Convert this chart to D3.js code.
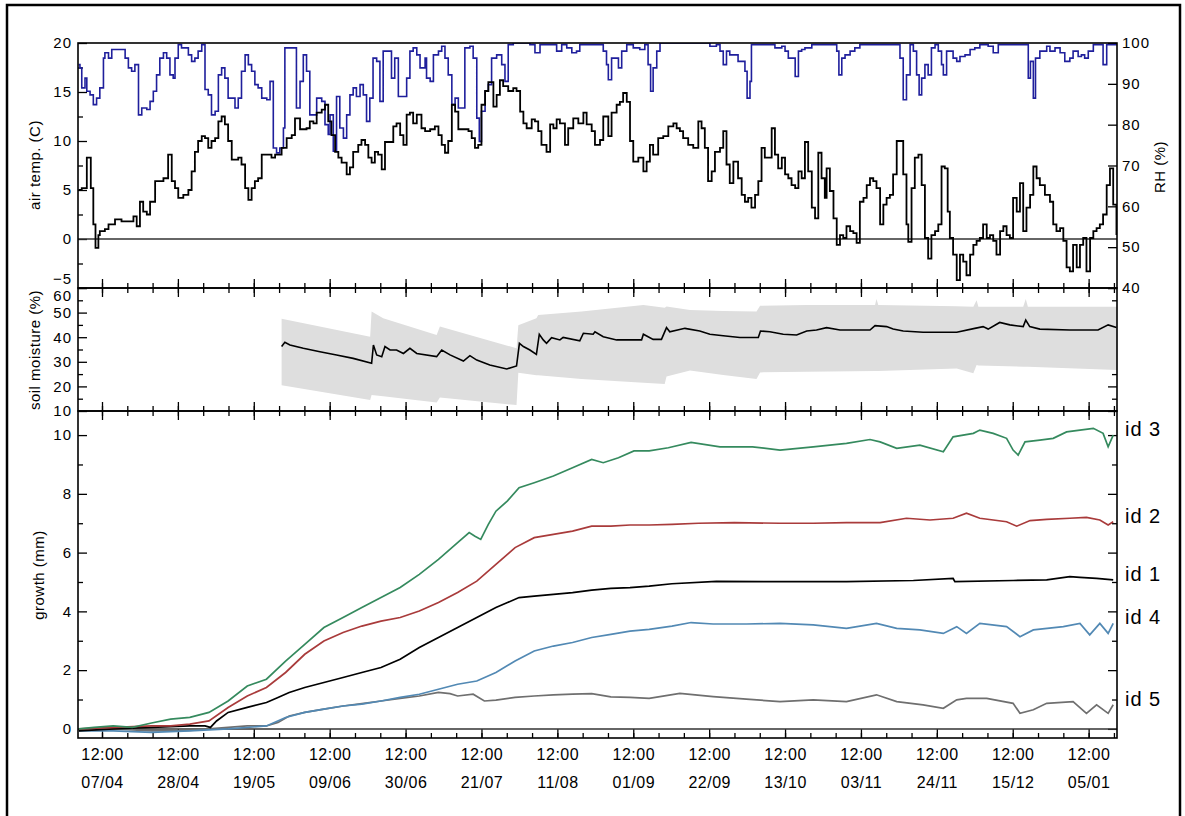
<!DOCTYPE html>
<html>
<head>
<meta charset="utf-8">
<script src="https://cdn.jsdelivr.net/npm/d3@7"></script>
<style>
  body { margin: 0; background: #fff; }
  svg text { font-family: "Liberation Sans", Arial, sans-serif; fill: #000; }
  .tick line { stroke: #000; stroke-width: 1.3; }
</style>
</head>
<body>
<svg id="chart" width="1185" height="816"></svg>
<script>
// all times are day offsets counted from 07/04 12:00

// air temperature (C)
const airTemp = [[-6.5,5.0],[-5.6,5.2],[-4.2,8.3],[-3.8,8.3],[-3.1,5.2],[-2.4,1.5],[-1.8,-0.9],[-1.0,0.4],[-0.6,0.8],[0.8,1.0],[1.8,1.5],[3.6,2.0],[5.4,1.8],[7.3,1.8],[8.7,2.3],[9.6,1.3],[10.5,3.8],[11.4,2.8],[12.4,2.5],[13.3,3.8],[14.7,5.9],[16.0,5.9],[17.0,6.2],[18.3,8.6],[19.3,5.9],[20.2,5.2],[21.1,4.2],[22.5,4.5],[23.9,5.0],[24.8,6.9],[25.7,8.9],[26.6,10.0],[27.6,10.5],[28.5,10.3],[29.4,9.3],[30.3,10.0],[31.3,10.3],[32.2,12.0],[33.1,12.5],[34.0,11.7],[34.9,10.0],[35.9,8.1],[36.8,8.1],[37.7,8.3],[38.6,7.6],[39.6,5.2],[40.5,4.0],[41.4,5.2],[42.3,5.9],[43.2,6.2],[44.2,8.6],[45.6,8.6],[46.9,8.3],[47.9,8.6],[48.8,8.6],[49.7,9.3],[51.1,10.3],[52.5,10.6],[53.4,12.3],[54.8,11.2],[55.7,11.2],[56.6,11.3],[57.5,12.0],[58.5,11.8],[59.4,12.9],[60.8,13.2],[61.7,13.7],[62.6,12.0],[63.5,10.6],[64.5,8.9],[65.4,8.3],[66.3,7.8],[67.7,6.6],[68.6,7.3],[69.5,8.9],[70.9,9.6],[71.8,10.1],[72.8,9.6],[73.7,8.3],[74.6,7.8],[75.5,8.9],[76.4,8.6],[77.4,7.1],[78.3,9.9],[79.7,9.9],[80.6,11.5],[81.5,11.8],[82.5,10.6],[83.4,9.6],[84.3,12.7],[85.2,12.9],[86.1,11.8],[87.1,12.7],[88.4,11.3],[89.4,11.0],
  [90.8,11.2],[92.1,11.5],[93.1,10.6],[94.0,9.6],[94.9,8.8],[95.8,10.0],[96.8,13.7],[97.7,13.0],[98.6,11.2],[100.0,11.2],[101.4,11.0],[102.3,10.3],[103.2,9.3],[104.1,9.6],[105.0,13.7],[106.0,15.1],[106.9,16.0],[108.3,13.5],[109.2,14.7],[110.1,16.2],[111.0,15.6],[112.4,15.1],[113.8,15.4],[114.7,15.1],[115.7,13.0],[116.6,11.8],[117.5,11.3],[118.9,12.2],[119.8,12.0],[120.7,11.0],[121.6,9.6],[123.0,8.9],[124.0,11.7],[124.9,11.3],[125.8,12.2],[126.7,11.8],[128.1,9.6],[129.0,11.3],[130.4,12.3],[131.8,11.8],[133.2,12.9],[134.1,11.7],[135.5,11.0],[136.4,9.6],[137.8,10.1],[138.7,12.5],[140.1,10.5],[141.0,12.9],[142.4,13.7],[143.3,14.0],[144.2,14.9],[145.2,14.0],[146.1,10.0],[147.0,7.9],[148.4,8.3],[149.8,6.9],[150.7,7.9],[151.6,9.6],[152.5,8.6],[153.9,10.3],[155.3,10.5],[156.7,11.5],[158.1,11.8],[159.0,11.3],[159.9,11.0],[160.8,10.3],[162.2,9.6],[163.6,9.3],[165.0,12.0],[165.9,11.3],[166.8,9.3],[167.7,5.9],[168.7,6.9],[169.6,8.9],[171.0,9.3],[171.9,11.0],[172.8,7.6],[173.7,5.7],[174.7,7.9],[176.0,6.2],[177.0,4.5],[177.9,3.8],[178.8,4.2],[179.7,3.2],[180.7,4.5],[181.6,5.9],[182.5,9.3],[183.4,8.3],
  [184.4,8.3],[185.3,11.3],[186.2,8.6],[187.1,7.2],[188.1,8.3],[189.0,6.6],[189.9,6.2],[190.8,5.5],[191.8,5.2],[192.7,6.9],[193.6,6.2],[194.5,9.9],[195.4,6.9],[196.4,3.2],[197.3,2.1],[198.2,8.8],[199.1,6.2],[200.0,4.2],[200.5,7.2],[201.4,4.9],[202.4,2.1],[203.3,-0.6],[204.2,0.4],[205.1,0.1],[206.0,1.3],[207.0,0.8],[207.9,0.6],[208.8,-0.4],[209.7,3.8],[210.7,4.2],[211.6,5.5],[212.5,6.2],[213.4,5.9],[214.3,5.2],[215.3,1.5],[216.2,3.5],[217.1,4.2],[218.0,4.5],[218.9,6.6],[219.9,10.0],[220.8,10.0],[221.7,6.6],[222.6,1.5],[223.1,-0.3],[224.0,5.2],[224.9,8.3],[225.9,8.6],[226.8,5.5],[227.7,0.1],[228.6,-2.0],[229.5,0.4],[230.5,0.8],[231.4,1.5],[232.3,7.4],[233.2,7.2],[234.0,2.8],[234.6,0.1],[235.5,-1.6],[236.5,-4.2],[237.4,-1.6],[238.3,-2.3],[239.2,-3.7],[240.2,-1.6],[241.1,-0.6],[242.0,-0.2],[242.9,0.1],[243.8,1.5],[244.8,0.1],[245.7,0.4],[246.6,-0.2],[247.5,-1.6],[248.5,0.8],[249.4,1.3],[250.3,0.4],[251.2,0.1],[252.1,4.2],[253.1,2.8],[254.0,5.7],[254.9,0.8],[255.8,3.2],[256.8,4.5],[257.7,7.4],[258.6,6.2],[259.5,5.5],[260.9,4.5],[262.3,3.8],[263.2,1.5],[264.1,0.8],[265.1,1.1],[266.0,-0.2],[266.9,-2.9],[267.8,-3.3],[268.7,-0.6],[269.7,-2.9],[270.6,-0.6],[271.5,0.1],[272.4,-3.3],[273.4,0.1],[274.3,0.8],[275.2,1.1],[276.1,1.5],[277.0,2.5],[278.0,5.5],[278.9,7.2],[279.8,3.5],[280.7,0.4]];

// relative humidity (%)
const relHum = [[-6.5,94.7],[-6.1,93.9],[-5.6,89.0],[-4.7,91.4],[-4.2,88.2],[-3.3,87.3],[-2.4,84.9],[-1.5,86.5],[-0.6,89.0],[0.4,96.3],[0.8,97.6],[1.8,96.3],[2.7,98.4],[4.5,98.4],[5.9,98.4],[6.4,96.3],[7.3,93.9],[8.2,93.1],[9.1,94.7],[10.1,82.4],[11.0,84.1],[12.4,83.7],[13.3,85.7],[14.2,88.2],[15.1,92.2],[16.0,96.3],[17.0,97.6],[17.9,96.3],[18.8,92.2],[19.7,91.4],[20.2,96.3],[21.1,99.6],[22.0,98.8],[22.9,98.8],[23.9,97.1],[24.8,95.5],[25.7,96.3],[26.6,98.0],[27.6,99.6],[28.5,88.6],[29.4,87.3],[30.3,82.4],[31.3,83.3],[32.2,92.2],[33.1,93.9],[34.0,91.4],[34.9,86.5],[35.9,86.5],[36.8,84.1],[37.7,86.5],[38.6,93.1],[39.6,97.1],[40.5,94.7],[41.4,93.1],[42.3,89.8],[43.2,89.0],[44.2,86.5],[45.6,86.1],[46.5,90.6],[47.4,74.3],[48.3,73.1],[49.2,74.3],[50.2,79.2],[50.6,98.8],[51.5,98.8],[52.9,98.8],[53.8,84.1],[54.8,90.6],[55.7,97.1],[56.6,93.1],[57.5,82.4],[58.5,82.4],[59.4,86.5],[60.8,85.7],[61.7,80.0],[62.6,77.6],[63.1,82.4],[64.0,73.5],[64.9,86.9],[65.8,79.2],[66.8,76.7],[67.7,82.4],[68.6,87.3],[69.5,89.0],[70.4,86.9],[71.4,89.8],[72.3,87.3],[73.2,80.8],[74.1,86.5],[75.0,96.3],[76.0,95.5],[76.9,85.7],[77.8,98.0],[79.2,98.0],[80.1,91.4],[81.0,96.3],[82.0,86.9],[83.4,86.9],[84.3,91.4],[85.2,98.0],[86.1,98.8],[87.1,97.1],[88.0,93.9],[89.4,96.3],
  [89.8,91.4],[90.8,90.6],[91.7,97.1],[93.1,98.0],[94.0,99.2],[94.9,96.3],[95.8,92.2],[96.8,84.9],[97.7,86.5],[98.6,84.1],[99.5,84.1],[100.4,98.8],[101.8,99.2],[102.7,96.3],[103.7,81.6],[104.4,75.9],[105.0,83.3],[106.0,88.2],[106.9,89.8],[107.8,96.3],[109.2,97.1],[110.6,94.7],[111.5,90.6],[112.4,99.6],[113.8,100],[118.4,99.6],[119.8,97.6],[121.2,99.6],[124.9,99.6],[125.8,98.0],[127.2,99.6],[128.6,98.8],[130.0,97.6],[131.3,98.0],[132.2,99.6],[137.8,99.6],[138.7,98.0],[139.6,94.7],[140.1,91.0],[141.0,96.3],[141.9,96.3],[142.9,93.9],[143.8,98.0],[145.2,99.6],[147.0,98.8],[148.8,98.4],[150.2,99.6],[151.1,94.7],[151.8,88.2],[152.5,93.9],[153.5,98.0],[154.4,100],[167.3,100],[168.2,99.2],[170.0,99.6],[171.0,98.0],[171.9,94.7],[172.8,98.0],[173.7,97.1],[175.1,97.1],[176.0,95.5],[177.0,95.5],[177.9,93.1],[178.5,86.5],[179.3,90.6],[179.7,99.6],[184.8,99.6],
  [186.2,98.8],[188.1,99.2],[189.0,98.0],[189.9,96.3],[190.8,96.3],[191.8,91.8],[192.7,98.0],[193.6,98.4],[194.5,98.8],[196.4,99.6],[202.4,99.6],[203.3,98.0],[203.9,92.2],[204.7,96.3],[205.6,97.1],[207.0,98.0],[208.3,98.8],[209.7,99.6],[219.9,99.6],[220.8,96.3],[221.7,86.1],[222.6,92.2],[223.6,99.6],[224.5,98.0],[225.4,92.2],[226.1,87.3],[226.8,91.4],[227.7,94.7],[228.6,92.2],[229.5,98.8],[230.5,99.6],[231.4,98.0],[232.3,94.7],[232.8,92.2],[233.7,98.0],[234.6,98.0],[235.5,96.3],[236.5,95.5],[237.4,96.7],[238.8,97.1],[240.2,98.4],[241.5,98.8],[242.9,99.6],[245.2,99.2],[246.6,97.6],[248.0,99.6],[255.4,99.6],[256.3,91.4],[256.9,95.5],[257.7,86.5],[258.3,96.3],[259.5,98.0],[261.4,99.2],[262.3,98.0],[263.7,98.8],[265.1,97.6],[266.4,95.5],[267.8,96.3],[268.7,98.0],[270.1,96.7],[271.0,97.1],[271.9,96.3],[272.9,98.0],[274.3,99.6],[276.1,99.6],[277.0,94.7],[278.0,99.6],[280.8,99.6]];

// soil moisture (%) mean line
const soilMean = [[49.7,36.2],[50.6,37.9],[52.0,36.8],[55.7,35.5],[60.3,34.1],[64.9,32.8],[69.5,31.4],[74.6,29.4],[75.1,36.8],[76.0,32.8],[77.4,32.1],[78.3,36.2],[79.7,34.8],[81.5,34.8],[83.4,33.4],[85.2,35.5],[87.1,33.4],[92.6,32.1],[94.0,34.8],[96.3,32.8],[100.0,30.3],[101.8,32.5],[103.7,30.7],[107.3,28.7],[112.0,27.1],[114.7,28.3],[115.5,37.5],[116.6,36.2],[118.4,34.8],[120.2,33.0],[121.0,41.2],[122.1,38.9],[123.0,37.5],[124.4,39.8],[126.7,38.9],[127.6,39.9],[132.2,38.5],[133.2,41.6],[135.9,41.2],[136.4,42.2],[138.7,40.2],[142.4,38.9],[149.3,38.9],[149.8,41.2],[152.5,39.1],[154.8,39.1],[156.2,43.9],[157.1,42.2],[161.3,43.6],[165.4,42.5],[168.2,41.2],[171.9,40.6],[176.5,39.9],[181.6,39.9],[182.2,42.5],[184.8,42.2],[188.5,41.2],[192.2,40.9],[195.0,42.5],[197.7,42.9],[200.5,43.9],[204.2,42.9],[212.5,42.9],[213.9,44.7],[217.1,44.3],[218.9,43.3],[221.7,42.5],[227.2,42.0],[236.5,42.0],[241.5,43.6],[243.8,44.3],[245.2,43.3],[248.4,46.0],[251.2,45.0],[254.9,44.3],[255.6,47.0],[256.7,44.3],[259.5,43.3],[267.8,42.9],[275.6,42.9],[278.4,45.0],[280.7,43.9]];

// soil moisture range across sensors: [day, low, high]
const soilRange = [[49.7,20.5,47.5],[74.2,14.5,40.2],[74.6,16.5,50.4],[77.8,16.0,47.7],[92.6,13.5,40.9],[93.5,15.5,44.3],[114.7,12.4,35.5],[115.2,25.5,44.9],[120.2,24.5,47.7],[120.7,24.5,49.0],[132.7,23.0,50.4],[149.8,21.5,53.1],[155.7,21.0,52.0],[156.2,24.0,52.5],[162.7,26.5,51.1],[171.9,24.6,50.6],[181.1,23.0,50.4],[182.1,25.7,52.8],[195.0,26.0,53.1],[213.9,26.3,53.1],[214.3,26.3,55.5],[214.8,26.3,53.1],[236.5,27.3,52.6],[241.1,25.3,52.4],[242.0,28.7,55.0],[242.5,28.5,52.4],[254.9,28.0,52.4],[255.6,28.0,55.5],[256.2,28.0,52.4],[280.85,26.7,52.4]];

// dendrometer growth (mm)
const growthId3 = [[-6.4,0.0],[-2.2,0.05],[3.1,0.1],[8.4,0.05],[13.7,0.2],[19.0,0.33],[24.3,0.39],[29.6,0.56],[34.9,0.95],[40.2,1.46],[45.5,1.69],[50.8,2.31],[56.1,2.88],[61.4,3.45],[66.7,3.79],[71.9,4.13],[77.2,4.47],[82.5,4.81],[87.8,5.26],[93.1,5.77],[98.4,6.34],[101.6,6.68],[103.2,6.56],[104.8,6.45],[106.9,6.96],[109.0,7.41],[112.2,7.76],[115.4,8.21],[119.6,8.38],[124.9,8.61],[130.2,8.89],[135.5,9.17],[138.7,9.06],[142.9,9.23],[147.2,9.46],[151.4,9.46],[156.7,9.57],[163.0,9.75],[171.0,9.6],[180.0,9.6],[187.6,9.49],[196.8,9.60],[206.0,9.72],[212.5,9.85],[215.3,9.77],[219.9,9.55],[226.3,9.66],[232.8,9.43],[235.5,9.94],[241.1,10.06],[242.9,10.17],[246.6,10.06],[250.3,9.89],[252.1,9.49],[253.5,9.32],[255.4,9.77],[259.5,9.83],[263.2,9.89],[266.9,10.11],[270.6,10.17],[274.3,10.23],[277.0,10.06],[278.4,9.60],[279.8,10.0]];
const growthId2 = [[-6.4,0.0],[13.7,0.1],[19.0,0.1],[24.3,0.16],[29.6,0.27],[34.9,0.73],[40.2,1.12],[45.5,1.41],[50.8,1.92],[56.1,2.54],[61.4,2.99],[66.7,3.28],[71.9,3.50],[77.2,3.67],[82.5,3.79],[87.8,4.01],[93.1,4.30],[98.4,4.64],[103.7,5.03],[109.0,5.60],[114.3,6.17],[119.6,6.51],[124.9,6.62],[130.2,6.73],[135.5,6.90],[140.8,6.90],[146.1,6.94],[151.4,6.94],[157.7,6.96],[165.0,7.0],[175.0,7.02],[187.6,7.0],[196.8,7.0],[206.0,7.02],[215.3,7.02],[222.6,7.17],[229.1,7.11],[235.5,7.17],[239.2,7.34],[242.9,7.17],[250.3,7.05],[253.1,6.90],[256.8,7.09],[261.4,7.13],[267.8,7.17],[272.4,7.2],[276.1,7.11],[278.4,6.94],[279.8,7.05]];
const growthId1 = [[-6.4,-0.07],[3.1,0.0],[13.7,0.05],[24.3,0.1],[28.5,0.1],[30.0,0.05],[31.7,0.27],[34.9,0.56],[40.2,0.73],[45.5,0.9],[48.7,1.07],[51.8,1.24],[56.1,1.41],[61.4,1.58],[66.7,1.75],[71.9,1.92],[77.2,2.09],[82.5,2.37],[87.8,2.77],[93.1,3.11],[98.4,3.45],[103.7,3.79],[109.0,4.13],[112.2,4.30],[115.4,4.47],[119.6,4.52],[124.9,4.58],[130.2,4.64],[135.5,4.72],[140.8,4.78],[146.1,4.81],[151.4,4.86],[157.7,4.94],[170.0,5.02],[187.6,5.01],[206.0,5.01],[224.5,5.05],[235.5,5.12],[236.0,5.01],[252.1,5.05],[261.4,5.07],[267.8,5.18],[270.6,5.16],[275.2,5.12],[279.8,5.07]];
const growthId4 = [[-6.4,-0.07],[3.1,-0.07],[13.7,-0.12],[24.3,-0.07],[34.9,0.0],[45.5,0.1],[50.8,0.39],[56.1,0.56],[61.4,0.67],[66.7,0.78],[71.9,0.84],[77.2,0.95],[82.5,1.07],[87.8,1.18],[93.1,1.35],[98.4,1.52],[103.7,1.63],[109.0,1.92],[114.3,2.31],[119.6,2.65],[124.9,2.82],[130.2,2.94],[135.5,3.11],[140.8,3.22],[146.1,3.33],[151.4,3.39],[157.7,3.50],[163.0,3.62],[169.1,3.57],[178.3,3.57],[187.6,3.59],[196.8,3.54],[206.0,3.42],[214.3,3.59],[219.9,3.42],[226.3,3.37],[232.8,3.25],[236.5,3.48],[239.2,3.25],[242.9,3.59],[250.3,3.48],[254.0,3.14],[257.7,3.37],[266.0,3.48],[270.6,3.59],[273.3,3.20],[276.1,3.59],[278.4,3.25],[279.8,3.59]];
const growthId5 = [[-6.4,-0.05],[3.1,0.0],[13.7,-0.07],[24.3,-0.05],[34.9,0.05],[40.2,0.1],[45.5,0.1],[48.7,0.22],[51.8,0.44],[56.1,0.56],[61.4,0.67],[66.7,0.78],[71.9,0.86],[77.2,0.95],[82.5,1.04],[87.8,1.12],[93.1,1.24],[96.3,1.2],[98.4,1.12],[102.7,1.18],[105.8,0.95],[109.0,0.98],[114.3,1.07],[119.6,1.12],[124.9,1.16],[130.2,1.18],[135.5,1.2],[140.8,1.09],[146.1,1.07],[151.4,1.04],[159.9,1.21],[169.1,1.1],[178.3,1.01],[187.6,0.93],[196.8,0.99],[206.0,0.93],[214.3,1.16],[219.9,0.93],[227.2,0.82],[232.8,0.70],[236.5,0.99],[239.2,1.04],[244.8,1.04],[252.1,0.87],[254.0,0.53],[257.7,0.65],[261.4,0.87],[268.7,0.93],[272.4,0.53],[275.2,0.82],[278.4,0.53],[279.8,0.82]];

const growthSeries = [
  { name: "id 3", color: "#358a5e", values: growthId3 },
  { name: "id 2", color: "#a93b3b", values: growthId2 },
  { name: "id 1", color: "#000000", values: growthId1 },
  { name: "id 4", color: "#5289b4", values: growthId4 },
  { name: "id 5", color: "#6f6f6f", values: growthId5 }
];

// x ticks: every week, labelled every three weeks
const majorDays = d3.range(0, 274, 21);
const minorDays = d3.range(0, 281, 7);
const tempTicks = [-5, 0, 5, 10, 15, 20], tempMinor = [-2.5, 2.5, 7.5, 12.5, 17.5];
const rhTicks = [40, 50, 60, 70, 80, 90, 100];
const soilTicks = [10, 20, 30, 40, 50, 60], soilMinor = [15, 25, 35, 45, 55];
const growthTicks = [0, 2, 4, 6, 8, 10], growthMinor = [1, 3, 5, 7, 9];

const t0 = Date.UTC(2013, 3, 7, 12);
const asDate = d => new Date(t0 + d * 864e5);

const svg = d3.select("#chart");
const left = 78, right = 1117;
const topP = [43, 288], midP = [288, 411], lowP = [411, 738];

const x = d3.scaleUtc().domain([asDate(-6.64), asDate(280.85)]).range([left, right]);
const yTemp = d3.scaleLinear().domain([-5, 20]).range([topP[1], topP[0]]);
const yRH = d3.scaleLinear().domain([40, 100]).range([topP[1], topP[0]]);
const ySoil = d3.scaleLinear().domain([10, 60]).range([midP[1], midP[0]]);
const yGrowth = d3.scaleLinear().domain([-0.31, 10.82]).range([lowP[1], lowP[0]]);

// outer frame
svg.append("rect").attr("x", 7).attr("y", 5).attr("width", 1173).attr("height", 830)
  .attr("fill", "none").attr("stroke", "#000").attr("stroke-width", 2.5);

const noDomain = g => g.select(".domain").remove();

function clip(id, p) {
  svg.append("clipPath").attr("id", id).append("rect")
    .attr("x", left).attr("y", p[0]).attr("width", right - left).attr("height", p[1] - p[0]);
}
clip("c-top", topP); clip("c-mid", midP); clip("c-low", lowP);

function yTicks(scale, major, minor, side, labels, pad) {
  const axis = side === "left" ? d3.axisLeft : d3.axisRight;
  const xPos = side === "left" ? left : right;
  svg.append("g").attr("transform", `translate(${xPos},0)`)
    .call(axis(scale).tickValues(minor).tickSize(-5).tickFormat(""))
    .call(noDomain);
  const g = svg.append("g").attr("transform", `translate(${xPos},0)`)
    .call(axis(scale).tickValues(major).tickSize(-9).tickPadding(pad || 6)
      .tickFormat(labels ? d3.format("d") : ""))
    .call(noDomain);
  g.selectAll("text").style("font-size", "15px").style("letter-spacing", "1px");
  return g;
}

function xTicks(yPos, orient, labels) {
  const axis = orient === "top" ? d3.axisTop : d3.axisBottom;
  svg.append("g").attr("transform", `translate(0,${yPos})`)
    .call(axis(x).tickValues(minorDays.map(asDate)).tickSize(-5).tickFormat(""))
    .call(noDomain);
  const g = svg.append("g").attr("transform", `translate(0,${yPos})`)
    .call(axis(x).tickValues(majorDays.map(asDate)).tickSize(-9).tickPadding(11)
      .tickFormat(labels ? d3.utcFormat("%H:%M") : ""))
    .call(noDomain);
  if (labels) {
    const day = d3.utcFormat("%d/%m");
    g.selectAll(".tick text").each(function (d) {
      const t = d3.select(this).style("font-size", "16px").style("letter-spacing", "0.5px");
      t.append("tspan").attr("x", 0).attr("dy", "28px").text(day(d));
    });
  }
}

// ---- top panel: air temperature and RH
const tempAxis = yTicks(yTemp, tempTicks, tempMinor, "left", true);
// -5 sits just above the soil moisture 60 label, as in the original
tempAxis.selectAll(".tick text").filter(d => d === -5).attr("dy", "-0.33em");
yTicks(yRH, rhTicks, [], "right", true, 5);
xTicks(topP[1], "bottom", false);

svg.append("line").attr("x1", left).attr("x2", right)
  .attr("y1", yTemp(0)).attr("y2", yTemp(0))
  .attr("stroke", "#333").attr("stroke-width", 1.5);

const topG = svg.append("g").attr("clip-path", "url(#c-top)");
topG.append("path").datum(relHum)
  .attr("fill", "none").attr("stroke", "#1f1f9c").attr("stroke-width", 1.6)
  .attr("d", d3.line().curve(d3.curveStepAfter).x(d => x(asDate(d[0]))).y(d => yRH(d[1])));
topG.append("path").datum(airTemp)
  .attr("fill", "none").attr("stroke", "#000").attr("stroke-width", 1.8)
  .attr("d", d3.line().curve(d3.curveStepAfter).x(d => x(asDate(d[0]))).y(d => yTemp(d[1])));

// ---- middle panel: soil moisture
const soilAxis = yTicks(ySoil, soilTicks, soilMinor, "left", true);
soilAxis.selectAll(".tick text").filter(d => d === 60).attr("dy", "0.8em");
yTicks(ySoil, soilTicks, soilMinor, "right", false);
xTicks(midP[0], "top", false);
xTicks(midP[1], "bottom", false);

const midG = svg.append("g").attr("clip-path", "url(#c-mid)");
midG.append("path").datum(soilRange)
  .attr("fill", "#dedede")
  .attr("d", d3.area().x(d => x(asDate(d[0]))).y0(d => ySoil(d[1])).y1(d => ySoil(d[2])));
midG.append("path").datum(soilMean)
  .attr("fill", "none").attr("stroke", "#000").attr("stroke-width", 1.6)
  .attr("d", d3.line().x(d => x(asDate(d[0]))).y(d => ySoil(d[1])));

// ---- bottom panel: growth
yTicks(yGrowth, growthTicks, growthMinor, "left", true);
yTicks(yGrowth, growthTicks, growthMinor, "right", false);
xTicks(lowP[0], "top", false);
xTicks(lowP[1], "bottom", true);

svg.append("line").attr("x1", left).attr("x2", right)
  .attr("y1", yGrowth(0)).attr("y2", yGrowth(0))
  .attr("stroke", "#333").attr("stroke-width", 1.5);

const lowG = svg.append("g").attr("clip-path", "url(#c-low)");
const growthLine = d3.line().x(d => x(asDate(d[0]))).y(d => yGrowth(d[1]));
lowG.selectAll(".growth").data(growthSeries.slice().reverse()).enter()
  .append("path").attr("class", "growth")
  .attr("fill", "none").attr("stroke", d => d.color).attr("stroke-width", 1.7)
  .attr("d", d => growthLine(d.values));

svg.selectAll(".idlabel").data(growthSeries).enter()
  .append("text").attr("class", "idlabel")
  .attr("x", right + 8)
  .attr("y", d => yGrowth(d.values[d.values.length - 1][1]) + 1)
  .style("font-size", "20px").style("letter-spacing", "1px")
  .text(d => d.name);

// panel frames
[topP, midP, lowP].forEach(p => {
  svg.append("rect").attr("x", left).attr("y", p[0])
    .attr("width", right - left).attr("height", p[1] - p[0])
    .attr("fill", "none").attr("stroke", "#000").attr("stroke-width", 1.6);
});

// axis titles
function title(txt, cx, cy) {
  svg.append("text").attr("transform", `translate(${cx},${cy}) rotate(-90)`)
    .attr("text-anchor", "middle").attr("dy", "0.35em")
    .style("font-size", "15px").style("letter-spacing", "0.5px").text(txt);
}
title("air temp. (C)", 35, 165);
title("soil moisture (%)", 35, 350);
title("growth (mm)", 39, 575);
title("RH (%)", 1160, 167);
</script>
</body>
</html>
